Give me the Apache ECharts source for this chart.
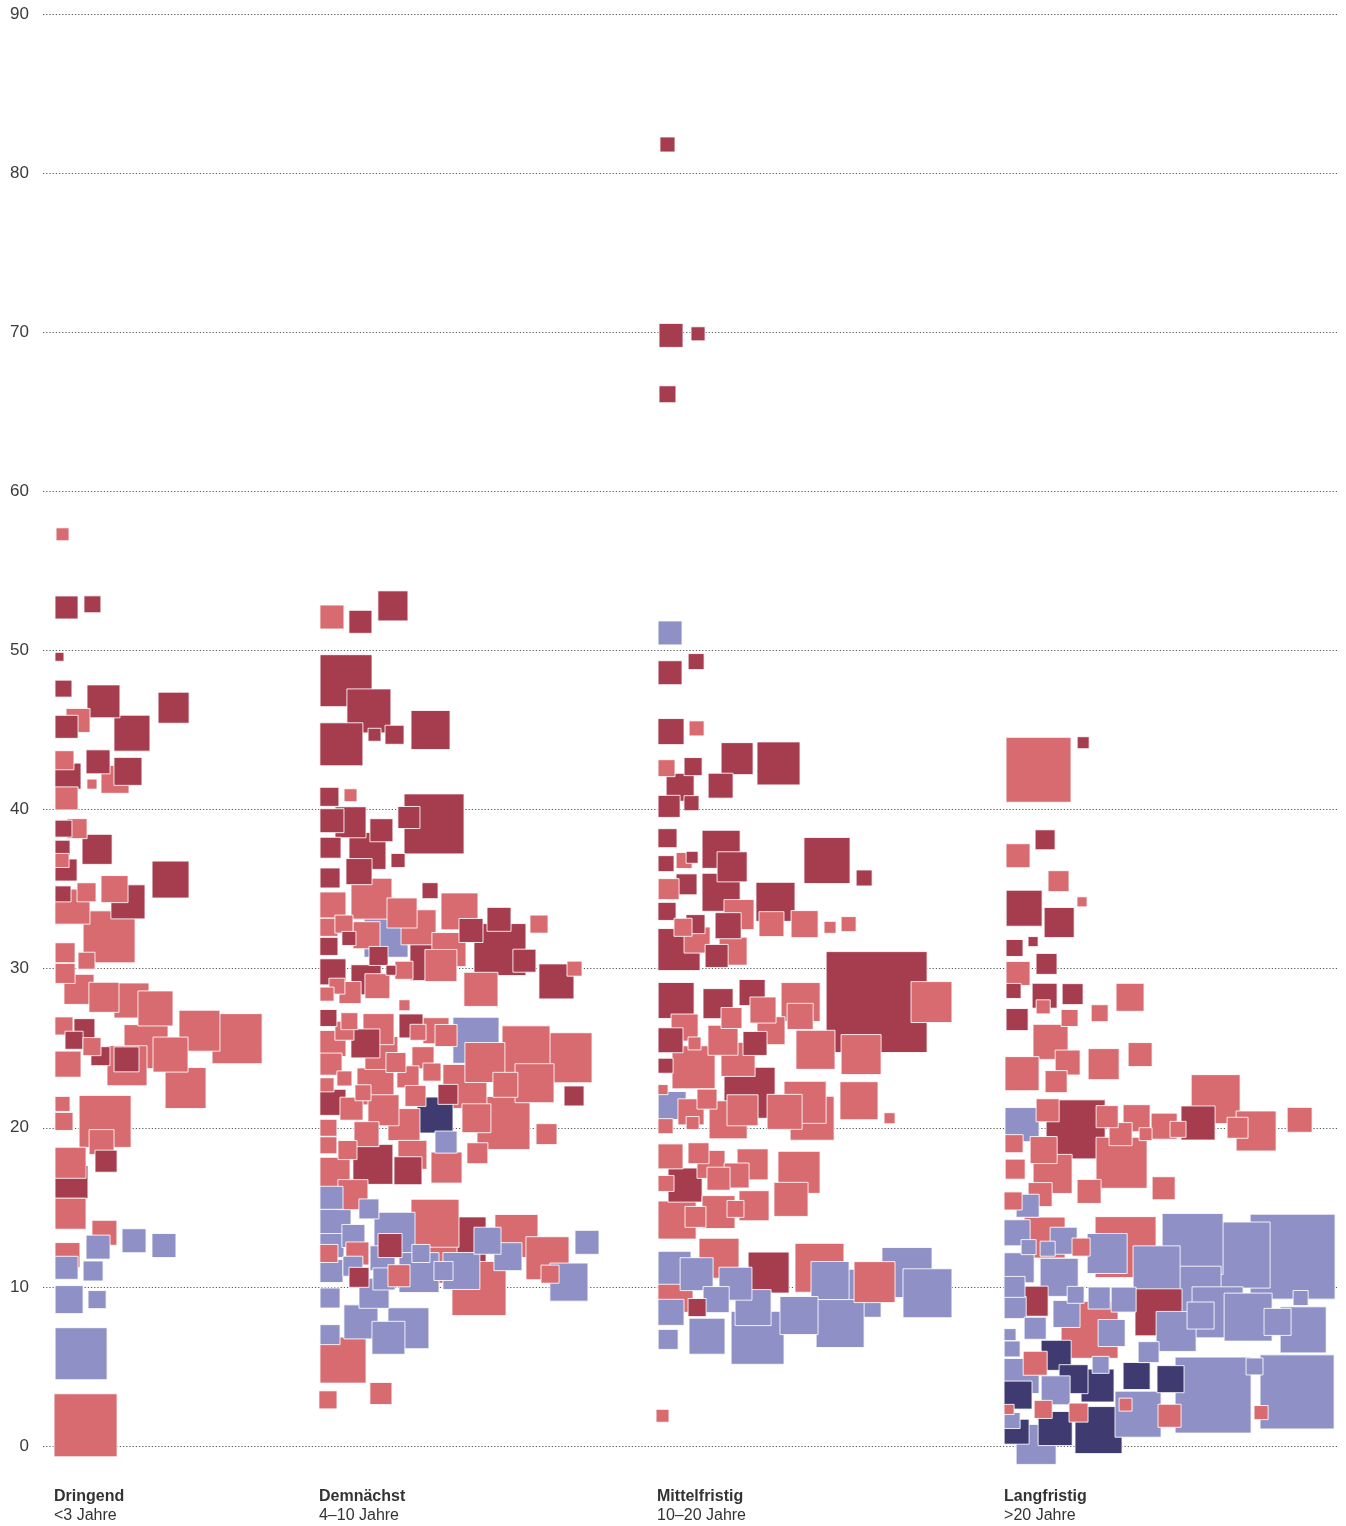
<!DOCTYPE html>
<html><head><meta charset="utf-8">
<script src="https://cdn.jsdelivr.net/npm/echarts@6.0.0/dist/echarts.min.js"></script>
<style>html,body{margin:0;padding:0;background:#fff}#c{width:1346px;height:1526px}</style>
</head><body><div id="c"></div>
<script>
// ---------- DATA ----------
const categories = ['Dringend', 'Demnächst', 'Mittelfristig', 'Langfristig'];
const subLabels = ['<3 Jahre', '4–10 Jahre', '10–20 Jahre', '>20 Jahre'];
const yTickLabels = ['0', '10', '20', '30', '40', '50', '60', '70', '80', '90'];
// each row: [horizontal spread within column, value (y), side length, group]
// groups: L = light red, D = dark red, B = blue, N = navy
const dringend = [
[0.47,57.3,0.81,'L'],[0.72,52.7,1.44,'D'],[2.34,52.9,1.06,'D'],[0.28,49.6,0.56,'D'],[0.53,47.6,1.06,'D'],
[3.03,46.8,2.06,'D'],[7.41,46.4,1.94,'D'],[1.44,45.6,1.5,'L'],[0.72,45.2,1.44,'D'],[4.81,44.8,2.25,'D'],
[0.59,43.1,1.19,'L'],[2.69,43.0,1.5,'D'],[0.81,42.1,1.63,'D'],[3.75,41.9,1.75,'L'],[4.56,42.4,1.75,'D'],
[2.31,41.6,0.63,'L'],[0.72,40.7,1.44,'L'],[0.53,38.8,1.06,'D'],[1.38,38.8,1.25,'L'],[0.47,37.6,0.94,'D'],
[2.63,37.5,1.88,'D'],[0.44,36.8,0.88,'L'],[0.69,36.2,1.38,'D'],[7.22,35.6,2.31,'D'],[0.5,34.7,1.0,'D'],
[1.97,34.8,1.19,'L'],[3.72,35.0,1.69,'L'],[4.56,34.2,2.13,'D'],[1.09,33.9,2.19,'L'],[3.38,32.0,3.25,'L'],
[0.63,31.0,1.25,'L'],[1.97,30.5,1.06,'L'],[0.63,29.7,1.25,'L'],[1.5,28.7,1.88,'L'],[3.06,28.2,1.88,'L'],
[4.78,28.0,2.19,'L'],[6.28,27.5,2.19,'L'],[0.56,26.4,1.13,'L'],[1.84,26.2,1.31,'D'],[1.19,25.5,1.13,'D'],
[2.31,25.1,1.13,'L'],[2.84,24.5,1.19,'D'],[5.69,25.1,2.75,'L'],[9.03,26.1,2.56,'L'],[11.38,25.6,3.13,'L'],
[7.22,24.6,2.19,'L'],[0.81,24.0,1.63,'L'],[4.47,24.3,1.56,'D'],[4.5,23.9,2.5,'L'],[8.16,22.5,2.56,'L'],
[0.47,21.5,0.94,'L'],[3.13,20.4,3.25,'L'],[0.56,20.4,1.13,'L'],[2.91,19.1,1.56,'L'],[3.19,17.9,1.38,'D'],
[0.97,17.8,1.94,'L'],[1.03,16.6,2.06,'D'],[0.97,14.6,1.94,'L'],[3.09,13.4,1.56,'L'],[2.69,12.5,1.5,'B'],
[4.94,12.9,1.5,'B'],[6.81,12.6,1.5,'B'],[0.78,12.0,1.56,'L'],[0.72,11.2,1.44,'B'],[2.38,11.0,1.25,'B'],
[0.88,9.2,1.75,'B'],[2.63,9.2,1.13,'B'],[1.63,5.8,3.25,'B'],[1.91,1.3,3.94,'L']
];
const demnaechst = [
[0.75,52.1,1.5,'L'],[2.53,51.8,1.44,'D'],[4.56,52.8,1.88,'D'],[1.63,48.1,3.25,'D'],[3.06,46.2,2.75,'D'],
[1.34,44.1,2.69,'D'],[3.41,44.7,0.81,'D'],[4.66,44.7,1.19,'D'],[6.91,45.0,2.44,'D'],[0.59,40.8,1.19,'D'],
[1.91,40.9,0.81,'L'],[7.13,39.1,3.75,'D'],[0.75,39.3,1.5,'D'],[1.91,39.2,1.94,'D'],[5.56,39.5,1.38,'D'],
[3.84,38.7,1.44,'D'],[0.66,37.6,1.31,'D'],[2.97,37.4,2.31,'D'],[4.88,36.8,0.88,'D'],[2.44,36.1,1.63,'D'],
[0.63,35.7,1.25,'D'],[6.88,34.9,1.0,'D'],[3.22,34.4,2.56,'L'],[0.81,34.0,1.63,'L'],[5.13,33.5,1.88,'L'],
[8.72,33.6,2.31,'L'],[6.16,32.6,2.19,'L'],[0.56,32.6,1.13,'L'],[1.5,32.8,1.13,'L'],[4.13,32.1,2.75,'B'],
[2.91,32.1,1.69,'L'],[1.81,31.9,0.88,'D'],[0.56,31.4,1.13,'D'],[9.44,32.4,1.5,'D'],[11.19,33.1,1.5,'D'],
[13.69,32.8,1.13,'L'],[11.25,31.2,3.25,'D'],[12.78,30.5,1.44,'D'],[6.97,30.6,2.69,'D'],[7.56,30.2,2.0,'L'],
[8.06,31.2,2.13,'L'],[3.66,30.8,1.19,'D'],[0.81,29.8,1.63,'D'],[2.88,29.3,1.88,'D'],[4.44,29.9,0.63,'D'],
[5.25,29.9,1.13,'L'],[3.59,28.9,1.56,'L'],[14.78,29.2,2.19,'D'],[15.91,30.0,0.94,'L'],[10.06,28.7,2.13,'L'],
[1.06,28.9,1.0,'L'],[1.88,28.5,1.38,'L'],[0.44,28.4,0.88,'L'],[5.28,27.7,0.69,'L'],[0.53,26.9,1.06,'D'],
[1.84,26.7,1.06,'L'],[3.66,26.2,1.94,'L'],[5.69,26.4,1.5,'D'],[6.13,26.0,1.0,'L'],[7.25,26.1,1.63,'L'],
[7.88,25.8,1.38,'L'],[9.75,25.5,2.88,'B'],[12.88,24.9,3.0,'L'],[15.44,24.4,3.13,'L'],[10.31,24.1,2.5,'L'],
[0.81,25.3,1.63,'L'],[1.53,26.1,1.19,'L'],[2.84,25.3,1.81,'D'],[3.84,24.7,2.06,'L'],[4.75,24.1,1.25,'L'],
[6.44,24.4,1.38,'L'],[7.0,23.5,1.13,'L'],[0.69,24.0,1.38,'L'],[1.53,23.1,0.94,'L'],[3.47,22.6,2.31,'L'],
[5.5,23.2,1.38,'L'],[9.06,22.6,2.75,'L'],[11.59,22.7,1.56,'L'],[13.41,22.8,2.44,'L'],[15.88,22.0,1.25,'D'],
[0.44,22.7,0.88,'L'],[0.81,21.6,1.63,'D'],[2.69,22.2,1.0,'L'],[1.97,21.2,1.44,'L'],[3.97,21.1,1.94,'L'],
[5.97,22.0,1.31,'L'],[8.0,22.1,1.25,'D'],[7.19,20.8,2.25,'N'],[5.25,20.2,2.0,'L'],[9.78,20.6,1.81,'L'],
[11.47,20.3,3.31,'L'],[14.16,19.6,1.31,'L'],[0.53,20.0,1.06,'L'],[2.91,19.6,1.56,'L'],[7.88,19.1,1.38,'B'],
[0.53,18.9,1.06,'L'],[1.72,18.6,1.19,'L'],[3.31,17.7,2.5,'D'],[5.78,18.3,1.81,'L'],[5.5,17.3,1.75,'D'],
[7.91,17.5,1.94,'L'],[9.84,18.4,1.31,'L'],[0.94,17.2,1.88,'L'],[2.06,15.8,1.88,'L'],[0.72,15.6,1.44,'B'],
[3.06,14.9,1.25,'B'],[7.19,14.0,3.0,'L'],[8.69,12.7,3.38,'D'],[12.28,13.2,2.69,'L'],[14.22,11.8,2.69,'L'],
[16.69,12.8,1.5,'B'],[0.97,13.9,1.94,'B'],[2.09,13.2,1.44,'B'],[4.66,13.4,2.56,'B'],[4.38,12.6,1.5,'D'],
[7.0,11.8,3.13,'L'],[10.47,12.9,1.69,'B'],[11.75,11.9,1.75,'B'],[9.94,9.9,3.38,'L'],[14.38,10.8,1.13,'L'],
[15.56,10.3,2.38,'B'],[0.75,12.6,1.5,'B'],[0.56,12.1,1.13,'L'],[2.34,12.1,1.44,'L'],[0.72,11.0,1.44,'B'],
[2.06,11.3,1.25,'B'],[2.44,10.6,1.25,'D'],[3.91,11.8,1.56,'B'],[4.0,10.5,1.38,'B'],[4.94,10.7,1.38,'L'],
[6.19,10.9,2.5,'B'],[6.31,12.1,1.13,'B'],[7.72,11.0,1.19,'B'],[8.84,11.0,2.31,'B'],[0.63,9.3,1.25,'B'],
[3.38,9.6,1.88,'B'],[2.56,7.8,2.13,'B'],[5.53,7.4,2.56,'B'],[4.28,6.8,2.06,'B'],[0.63,7.0,1.25,'B'],
[1.44,5.4,2.88,'L'],[0.5,2.9,1.13,'L'],[3.81,3.3,1.38,'L']
];
const mittelfristig = [
[0.59,81.8,0.94,'D'],[0.81,69.8,1.5,'D'],[2.5,69.9,0.88,'D'],[0.59,66.1,1.06,'D'],[0.28,1.9,0.81,'L'],
[0.75,51.1,1.5,'B'],[0.75,48.6,1.5,'D'],[2.38,49.3,1.0,'D'],[0.81,44.9,1.63,'D'],[2.41,45.1,0.94,'L'],
[4.94,43.2,2.0,'D'],[7.53,42.9,2.69,'D'],[0.53,42.6,1.06,'L'],[2.19,42.7,1.13,'D'],[1.38,41.4,1.75,'D'],
[3.91,41.5,1.56,'D'],[0.69,40.2,1.38,'D'],[2.09,40.4,0.94,'D'],[0.59,38.2,1.19,'D'],[3.94,37.5,2.38,'D'],
[4.63,36.4,1.88,'D'],[1.63,36.8,1.0,'L'],[2.13,37.0,0.75,'D'],[0.5,36.6,1.0,'D'],[10.56,36.8,2.88,'D'],
[12.88,35.7,1.0,'D'],[1.78,35.3,1.31,'D'],[0.66,35.0,1.31,'L'],[3.94,34.8,2.38,'D'],[7.34,34.2,2.44,'D'],
[5.06,33.4,1.88,'L'],[0.56,33.6,1.13,'D'],[2.34,32.8,1.19,'D'],[1.56,32.6,1.13,'L'],[4.38,32.7,1.63,'D'],
[7.09,32.8,1.56,'L'],[9.16,32.8,1.69,'L'],[10.75,32.6,0.75,'L'],[11.91,32.8,0.94,'L'],[1.31,31.2,2.63,'D'],
[2.44,31.8,1.63,'L'],[4.69,31.1,1.75,'L'],[3.66,30.8,1.44,'D'],[13.66,27.9,6.31,'D'],[17.09,27.9,2.56,'L'],
[1.13,28.0,2.25,'D'],[3.75,27.8,1.88,'D'],[5.88,28.5,1.63,'D'],[8.91,27.9,2.44,'L'],[6.56,27.4,1.63,'L'],
[4.59,26.9,1.31,'L'],[8.88,27.0,1.63,'L'],[1.66,26.3,1.69,'L'],[4.06,25.5,1.88,'L'],[7.06,26.1,1.75,'L'],
[6.06,25.3,1.5,'D'],[9.84,24.9,2.44,'L'],[12.69,24.6,2.5,'L'],[0.78,25.5,1.56,'D'],[2.28,25.3,0.81,'L'],
[2.22,23.8,2.69,'L'],[0.47,23.9,0.94,'D'],[5.0,24.3,2.13,'L'],[5.72,22.2,3.19,'D'],[9.19,21.6,2.63,'L'],
[12.56,21.7,2.38,'L'],[14.47,20.6,0.69,'L'],[0.31,22.4,0.63,'L'],[0.88,21.4,1.75,'B'],[2.06,21.0,1.63,'L'],
[3.06,21.8,1.25,'L'],[4.38,20.5,2.38,'L'],[5.28,21.1,1.94,'L'],[7.91,21.0,2.19,'L'],[9.63,20.6,2.75,'L'],
[2.16,20.3,0.81,'L'],[0.47,20.1,0.94,'L'],[0.78,18.2,1.56,'L'],[2.53,18.4,1.31,'L'],[3.31,17.7,1.75,'L'],
[5.91,17.7,1.94,'L'],[8.81,17.2,2.63,'L'],[3.78,16.8,1.44,'L'],[4.91,17.0,1.56,'L'],[0.5,16.5,1.0,'L'],
[1.69,16.4,2.13,'D'],[8.31,15.5,2.13,'L'],[6.0,15.1,1.88,'L'],[3.78,14.7,2.06,'L'],[4.84,14.9,1.06,'L'],
[1.19,14.2,2.38,'L'],[2.34,14.4,1.31,'L'],[3.81,11.8,2.5,'L'],[10.09,11.2,3.06,'L'],[6.91,10.9,2.56,'D'],
[1.03,11.2,2.06,'B'],[2.41,10.8,2.06,'B'],[4.84,10.2,2.06,'B'],[1.09,9.5,2.19,'L'],[2.44,8.7,1.13,'D'],
[3.63,9.2,1.63,'B'],[10.75,10.4,2.38,'B'],[12.44,9.6,3.0,'B'],[13.53,10.3,2.56,'L'],[15.56,10.9,3.13,'B'],
[16.84,9.6,3.06,'B'],[5.94,8.7,2.25,'B'],[8.81,8.2,2.38,'B'],[11.38,7.7,3.0,'B'],[0.81,8.4,1.63,'B'],
[3.06,6.9,2.25,'B'],[6.22,6.8,3.31,'B'],[0.63,6.7,1.25,'B']
];
const langfristig = [
[2.09,42.5,4.06,'L'],[4.88,44.2,0.75,'D'],[2.5,38.1,1.25,'D'],[0.81,37.1,1.5,'L'],[3.34,35.5,1.31,'L'],
[1.19,33.8,2.25,'D'],[4.81,34.2,0.63,'L'],[3.38,32.9,1.88,'D'],[0.59,31.3,1.06,'D'],[1.75,31.7,0.63,'D'],
[2.59,30.3,1.31,'D'],[0.81,29.7,1.5,'L'],[0.53,28.6,0.94,'D'],[2.47,28.3,1.56,'D'],[4.22,28.4,1.31,'D'],
[2.38,27.6,0.88,'L'],[7.81,28.2,1.75,'L'],[0.75,26.8,1.38,'D'],[4.03,26.9,1.06,'L'],[5.91,27.2,1.06,'L'],
[2.84,25.4,2.19,'L'],[3.91,24.1,1.56,'L'],[6.16,24.0,1.94,'L'],[8.44,24.6,1.5,'L'],[1.06,23.4,2.13,'L'],
[3.19,22.9,1.38,'L'],[13.16,21.8,3.06,'L'],[1.06,20.2,2.13,'B'],[2.66,21.1,1.44,'L'],[4.41,19.9,3.69,'D'],
[6.38,20.7,1.38,'L'],[8.22,20.6,1.69,'L'],[7.22,19.6,1.44,'L'],[8.78,19.6,0.81,'L'],[9.94,20.1,1.63,'L'],
[10.81,19.9,1.0,'L'],[12.06,20.3,2.13,'D'],[14.53,20.0,1.31,'L'],[15.69,19.8,2.5,'L'],[18.41,20.5,1.56,'L'],
[0.56,19.0,1.13,'L'],[2.41,18.6,1.69,'L'],[7.28,17.8,3.19,'L'],[2.97,17.1,2.44,'L'],[0.63,17.4,1.25,'L'],
[9.91,16.2,1.44,'L'],[5.25,16.0,1.5,'L'],[2.19,15.8,1.5,'L'],[0.5,15.4,1.13,'L'],[1.41,15.1,1.44,'B'],
[2.47,13.1,2.56,'L'],[7.53,12.5,3.81,'L'],[0.75,13.4,1.63,'B'],[3.66,12.9,1.69,'B'],[1.47,12.5,0.94,'B'],
[2.66,12.4,0.94,'B'],[4.75,12.5,1.13,'L'],[6.38,12.1,2.5,'B'],[11.72,12.7,3.81,'B'],[14.5,12.0,4.13,'B'],
[17.97,11.9,5.31,'B'],[9.47,11.1,2.94,'B'],[11.81,9.6,3.38,'B'],[0.88,11.2,1.88,'B'],[3.38,10.6,2.38,'B'],
[0.59,10.0,1.31,'B'],[1.75,9.1,1.88,'D'],[4.41,9.5,1.06,'B'],[5.88,9.3,1.38,'B'],[7.41,9.2,1.56,'B'],
[9.59,8.4,2.94,'D'],[13.28,8.4,3.19,'B'],[15.19,8.1,3.0,'B'],[18.47,9.3,0.94,'B'],[18.63,7.3,2.88,'B'],
[17.03,7.8,1.69,'B'],[12.22,8.2,1.69,'B'],[10.69,7.2,2.5,'B'],[5.28,7.3,3.56,'L'],[3.84,8.3,1.69,'B'],
[6.66,7.1,1.69,'B'],[0.63,8.7,1.38,'B'],[1.88,7.4,1.38,'B'],[0.31,7.0,0.75,'B'],[0.44,6.1,1.0,'B'],
[3.19,5.7,1.88,'N'],[1.88,5.2,1.5,'L'],[8.97,5.9,1.31,'B'],[1.03,4.4,2.19,'B'],[4.28,4.2,1.81,'N'],
[5.97,5.1,1.06,'B'],[5.78,3.8,2.06,'N'],[8.22,4.4,1.69,'N'],[10.34,4.2,1.69,'N'],[13.0,3.2,4.75,'B'],
[15.59,5.0,1.06,'B'],[18.25,3.4,4.63,'B'],[3.16,3.5,1.81,'B'],[0.81,3.2,1.75,'N'],[8.31,2.0,2.88,'B'],
[7.53,2.6,0.81,'L'],[2.38,2.3,1.13,'L'],[4.59,2.1,1.19,'L'],[10.28,1.9,1.44,'L'],[16.0,2.1,0.88,'L'],
[0.25,2.3,0.63,'L'],[0.44,1.6,1.0,'B'],[0.72,0.9,1.56,'N'],[3.13,1.1,2.13,'N'],[5.84,1.0,2.94,'N'],
[1.94,0.1,2.5,'B']
];

// ---------- LAYOUT / STYLE ----------
const columnOffset = [0.75, 17.31, 38.44, 60.13];
const groupColor = { L: '#d86b70', D: '#a63d4f', B: '#8f91c6', N: '#3f3b70' };
const FONT = '"Liberation Sans", Arial, sans-serif';

const columns = [dringend, demnaechst, mittelfristig, langfristig];
const items = [];
columns.forEach((rows, ci) => rows.forEach(r => {
  items.push({ value: [columnOffset[ci] + r[0], r[1], r[2]], itemStyle: { color: groupColor[r[3]] } });
}));
items.sort((a, b) => b.value[2] - a.value[2]);

const chart = echarts.init(document.getElementById('c'), null, { renderer: 'canvas' });
chart.setOption({
  animation: false,
  backgroundColor: '#ffffff',
  grid: { left: 43, right: 8, top: 14, bottom: 80 },
  xAxis: { type: 'value', min: 0, max: 1295 / 16, show: false },
  yAxis: {
    type: 'value', min: 0, max: 90, interval: 10,
    axisLine: { show: false }, axisTick: { show: false },
    axisLabel: { margin: 14, fontSize: 17, color: '#3a3a3a', fontFamily: FONT,
      formatter: v => yTickLabels[Math.round(v / 10)] },
    splitLine: { lineStyle: { type: [1.2, 2], color: '#555', width: 1 } }
  },
  series: [
    {
      type: 'custom', clip: false, data: items,
      encode: { x: 0, y: 1 },
      renderItem: (params, api) => {
        const c = api.coord([api.value(0), api.value(1)]);
        const w = api.size([api.value(2), 0])[0];
        return { type: 'rect',
          shape: { x: c[0] - w / 2, y: c[1] - w / 2, width: w, height: w },
          style: { fill: api.visual('color'), stroke: 'rgba(255,255,255,0.85)', lineWidth: 1 } };
      }
    },
    {
      type: 'custom', clip: false, silent: true,
      data: columnOffset.map((x, i) => [x, 0, i]),
      encode: { x: 0, y: 1 },
      renderItem: (params, api) => {
        const c = api.coord([api.value(0), 0]);
        const i = api.value(2);
        return { type: 'group', children: [
          { type: 'text', x: c[0] - 1, y: c[1] + 51,
            style: { text: categories[i], fill: '#333', font: 'bold 16px ' + FONT, align: 'left', verticalAlign: 'middle' } },
          { type: 'text', x: c[0] - 1, y: c[1] + 70,
            style: { text: subLabels[i], fill: '#333', font: '16px ' + FONT, align: 'left', verticalAlign: 'middle' } }
        ] };
      }
    }
  ]
});
</script>
</body></html>
